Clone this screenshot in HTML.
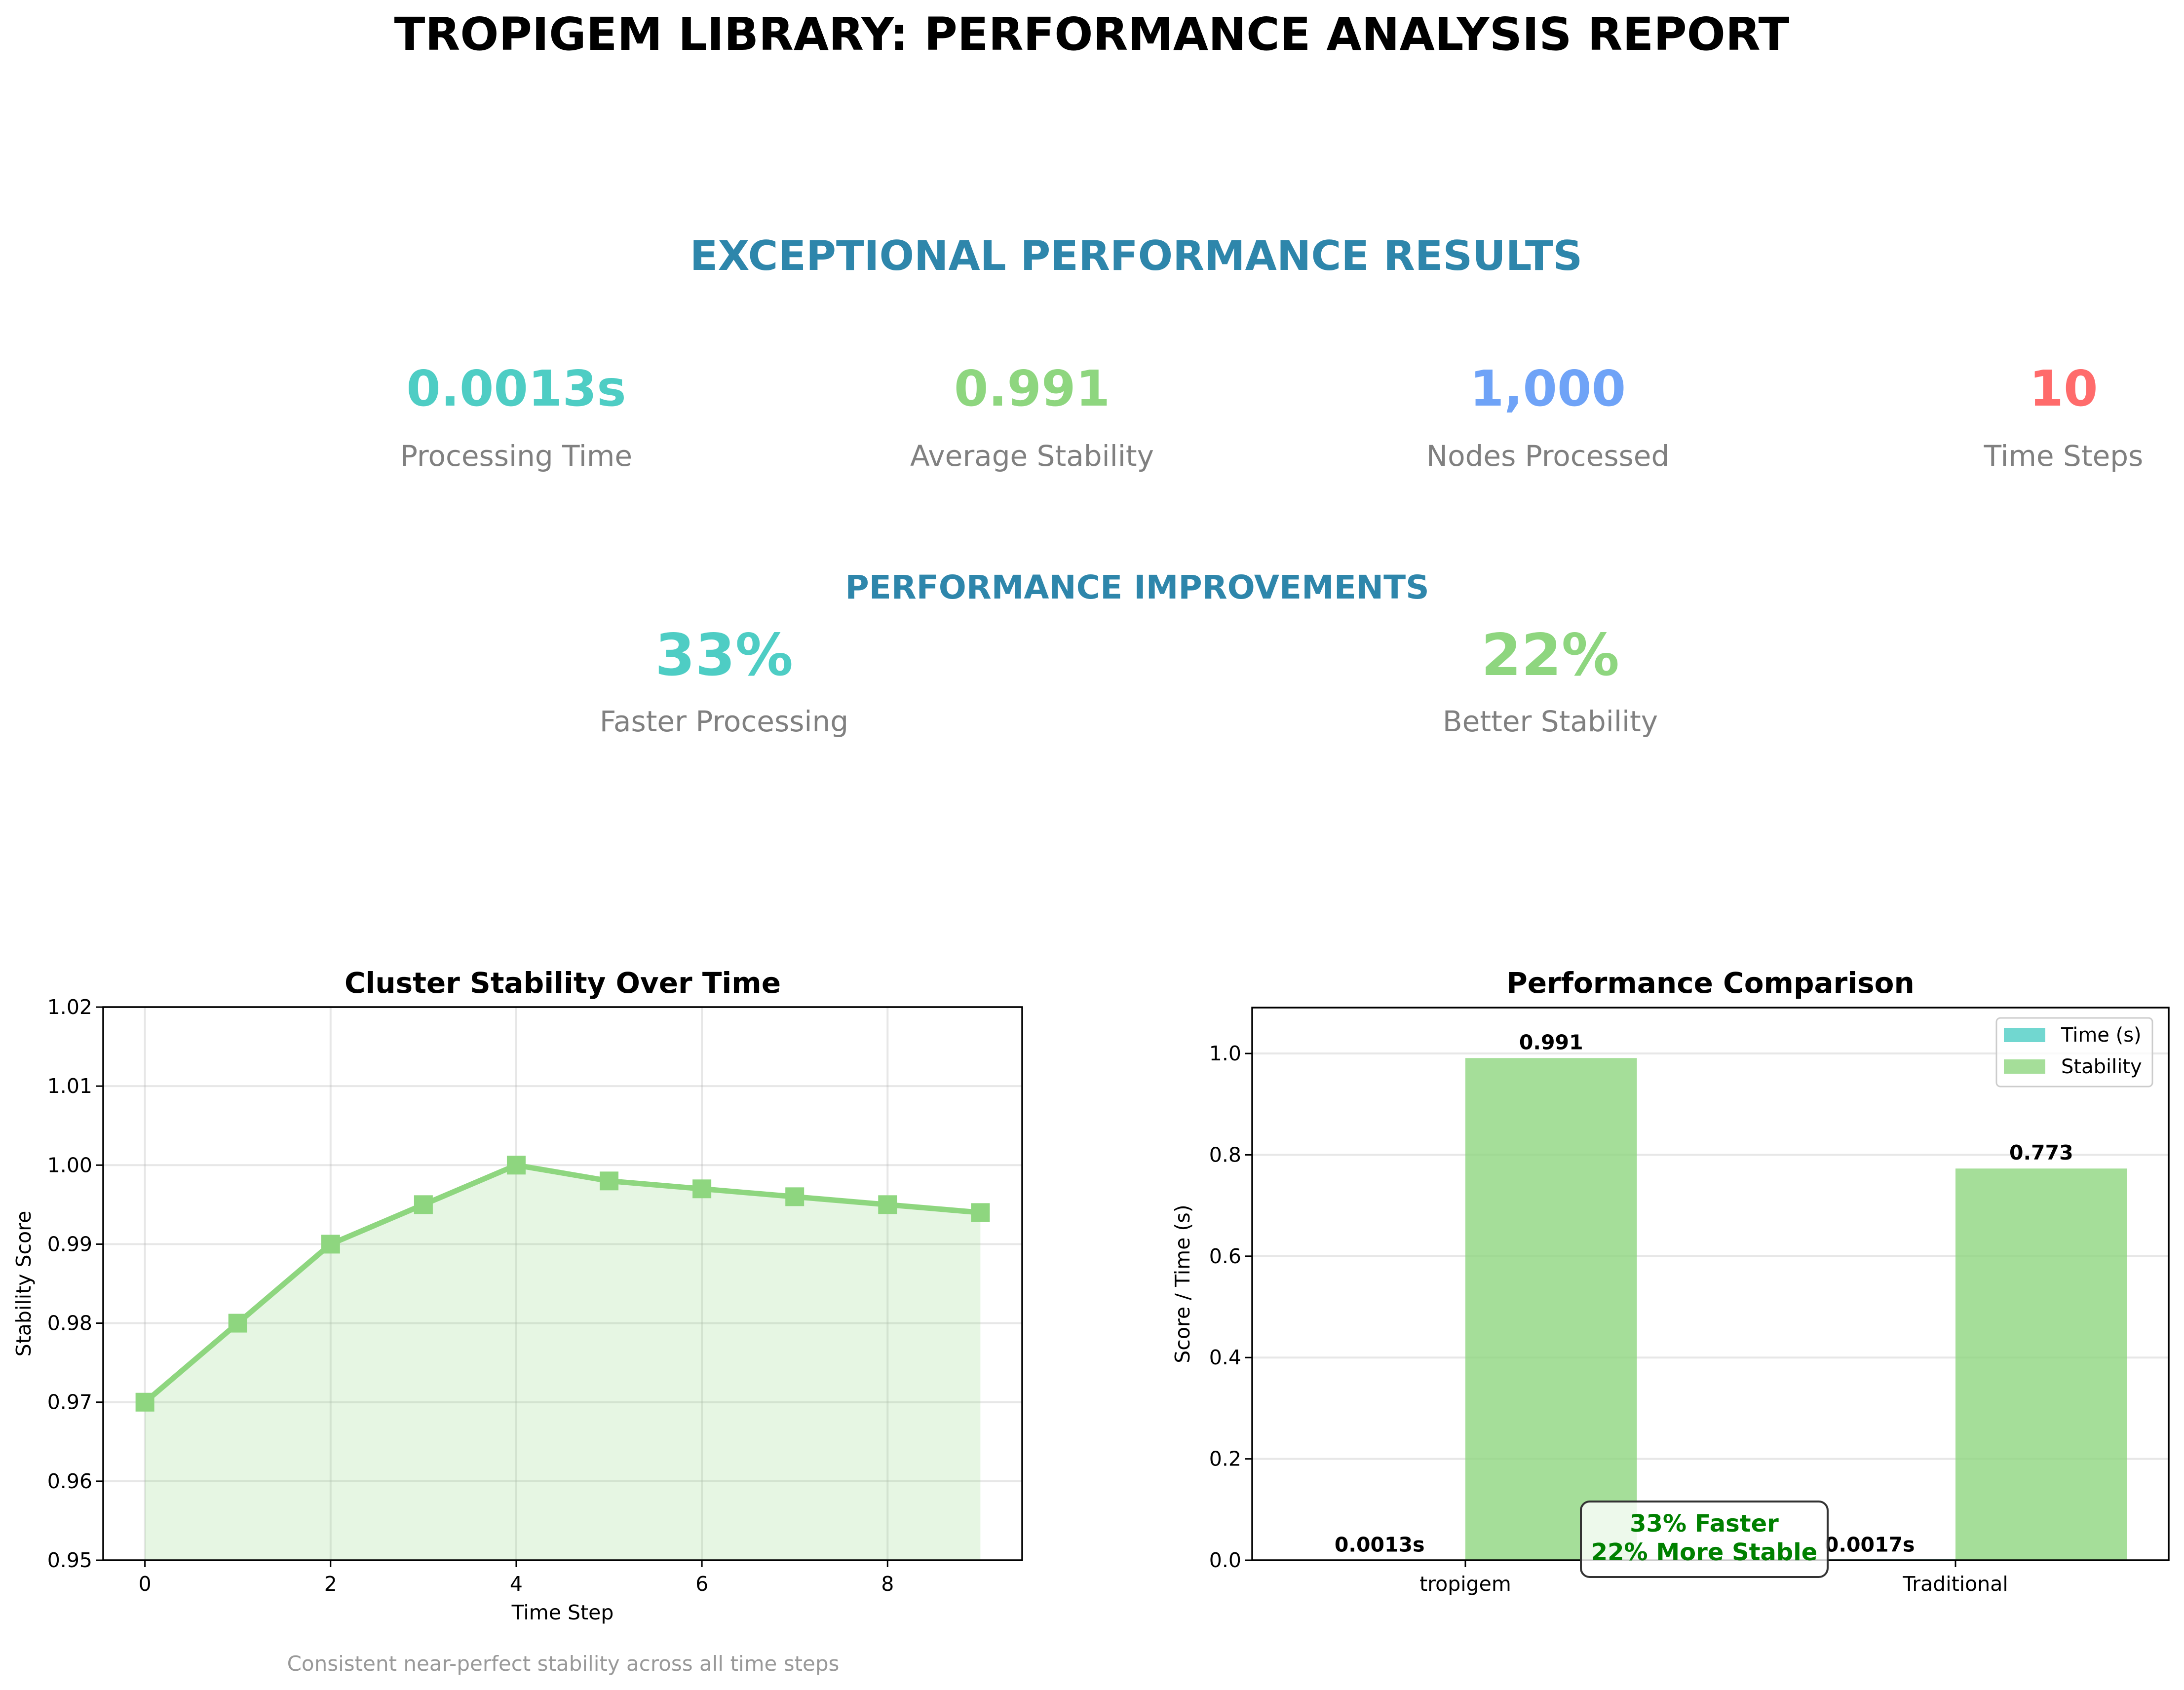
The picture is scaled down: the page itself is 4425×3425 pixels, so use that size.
<!DOCTYPE html>
<html><head><meta charset="utf-8"><style>
html,body{margin:0;padding:0;background:#fff;}
svg{display:block;font-family:"DejaVu Sans","Liberation Sans",sans-serif;}
</style></head><body>
<svg id="fig" width="4425" height="3425" viewBox="0 0 4425 3425" xmlns="http://www.w3.org/2000/svg">
<text x="2212" y="101" text-anchor="middle" font-size="92" font-weight="bold" fill="#000">TROPIGEM LIBRARY: PERFORMANCE ANALYSIS REPORT</text>
<text x="2302" y="547" text-anchor="middle" font-size="83" font-weight="bold" fill="#2E86AB">EXCEPTIONAL PERFORMANCE RESULTS</text>
<g>
<text x="1046" y="822" text-anchor="middle" font-size="100" font-weight="bold" fill="#4ECDC4">0.0013s</text>
<text x="1046" y="944" text-anchor="middle" font-size="58" fill="#808080">Processing Time</text></g>
<g>
<text x="2091" y="822" text-anchor="middle" font-size="100" font-weight="bold" fill="#8ED67F">0.991</text>
<text x="2091" y="944" text-anchor="middle" font-size="58" fill="#808080">Average Stability</text></g>
<g>
<text x="3136" y="822" text-anchor="middle" font-size="100" font-weight="bold" fill="#6FA3F7">1,000</text>
<text x="3136" y="944" text-anchor="middle" font-size="58" fill="#808080">Nodes Processed</text></g>
<g>
<text x="4181" y="822" text-anchor="middle" font-size="100" font-weight="bold" fill="#FF6B6B">10</text>
<text x="4181" y="944" text-anchor="middle" font-size="58" fill="#808080">Time Steps</text></g>
<text x="2304" y="1213" text-anchor="middle" font-size="66" font-weight="bold" fill="#2E86AB">PERFORMANCE IMPROVEMENTS</text>
<g>
<text x="1467" y="1368" text-anchor="middle" font-size="117" font-weight="bold" fill="#4ECDC4">33%</text>
<text x="1467" y="1482" text-anchor="middle" font-size="58" fill="#808080">Faster Processing</text></g>
<g>
<text x="3141" y="1368" text-anchor="middle" font-size="117" font-weight="bold" fill="#8ED67F">22%</text>
<text x="3141" y="1482" text-anchor="middle" font-size="58" fill="#808080">Better Stability</text></g>
<g id="c1"></g>
<g id="c2"></g>
</svg>
<script>
const steps = [0,1,2,3,4,5,6,7,8,9];
const stability = [0.97,0.98,0.99,0.995,1.0,0.998,0.997,0.996,0.995,0.994];
const xTicks1 = [0,2,4,6,8];
const yTicks1 = ["0.95","0.96","0.97","0.98","0.99","1.00","1.01","1.02"];
const methods = ["tropigem","Traditional"];
const times = [0.0013,0.0017];
const stabilities = [0.991,0.773];
const timeLabels = ["0.0013s","0.0017s"];
const stabLabels = ["0.991","0.773"];
const yTicks2 = ["0.0","0.2","0.4","0.6","0.8","1.0"];

const NS="http://www.w3.org/2000/svg";
function mk(parent,tag,attrs,text){const e=document.createElementNS(NS,tag);for(const k in attrs)e.setAttribute(k,attrs[k]);if(text!==undefined)e.textContent=text;parent.appendChild(e);return e;}

// Chart 1
const c1=document.getElementById('c1');
const L1=209,R1=2071,T1=2041,B1=3162;
const xs1=v=>L1+(v+0.45)/(9.9)*(R1-L1);
const ys1=v=>B1-(v-0.95)/0.07*(B1-T1);
yTicks1.forEach(t=>{const y=ys1(+t);
 let g=mk(c1,'line',{x1:L1,x2:R1,y1:y,y2:y,stroke:'#b0b0b0','stroke-opacity':0.3,'stroke-width':4});
 
 
 mk(c1,'line',{x1:L1-14,x2:L1,y1:y,y2:y,stroke:'#000','stroke-width':3});
 let l=mk(c1,'text',{x:L1-22,y:y+14,'text-anchor':'end','font-size':41},t);
 
 });
xTicks1.forEach(t=>{const x=xs1(t);
 let g=mk(c1,'line',{x1:x,x2:x,y1:T1,y2:B1,stroke:'#b0b0b0','stroke-opacity':0.3,'stroke-width':4});
 
 
 mk(c1,'line',{x1:x,x2:x,y1:B1,y2:B1+14,stroke:'#000','stroke-width':3});
 let l=mk(c1,'text',{x:x,y:B1+62,'text-anchor':'middle','font-size':41},t);
 
 });
let pts=steps.map((s,i)=>xs1(s)+','+ys1(stability[i])).join(' ');
let area=mk(c1,'polygon',{points:xs1(steps[0])+','+B1+' '+pts+' '+xs1(steps[steps.length-1])+','+B1,fill:'#8ED67F','fill-opacity':0.22});


let line=mk(c1,'polyline',{points:pts,fill:'none',stroke:'#8ED67F','stroke-width':11,'stroke-linejoin':'round'});


steps.forEach((s,i)=>{let m=mk(c1,'rect',{x:xs1(s)-19,y:ys1(stability[i])-19,width:38,height:38,fill:'#8ED67F'});
 
 });
mk(c1,'rect',{x:L1,y:T1,width:R1-L1,height:B1-T1,fill:'none',stroke:'#000','stroke-width':3.5});
let t1=mk(c1,'text',{x:(L1+R1)/2,y:2012,'text-anchor':'middle','font-size':58,'font-weight':'bold'},'Cluster Stability Over Time');


let xl1=mk(c1,'text',{x:(L1+R1)/2,y:3282,'text-anchor':'middle','font-size':41},'Time Step');


let yl1=mk(c1,'text',{x:0,y:0,'text-anchor':'middle','font-size':41,transform:'translate(62,'+((T1+B1)/2)+') rotate(-90)'},'Stability Score');


let cap=mk(c1,'text',{x:1141,y:3386,'text-anchor':'middle','font-size':42,fill:'#999'},'Consistent near-perfect stability across all time steps');



// Chart 2
const c2=document.getElementById('c2');
const L2=2537,R2=4394,T2=2042,B2=3162;
const xs2=v=>L2+(v+0.435)/1.87*(R2-L2);
const ys2=v=>B2-v/1.0906*(B2-T2);
const bw=0.35;
yTicks2.forEach(t=>{const y=ys2(+t);
 let g=mk(c2,'line',{x1:L2,x2:R2,y1:y,y2:y,stroke:'#b0b0b0','stroke-opacity':0.3,'stroke-width':4});
 
 
 mk(c2,'line',{x1:L2-14,x2:L2,y1:y,y2:y,stroke:'#000','stroke-width':3});
 let l=mk(c2,'text',{x:L2-22,y:y+14,'text-anchor':'end','font-size':41},t);
 
 });
methods.forEach((m,i)=>{
 const tb=mk(c2,'rect',{x:xs2(i-bw),y:ys2(times[i]),width:xs2(bw)-xs2(0),height:Math.max(B2-ys2(times[i]),2),fill:'#4ECDC4','fill-opacity':0.8});
 
 
 const sb=mk(c2,'rect',{x:xs2(i),y:ys2(stabilities[i]),width:xs2(bw)-xs2(0),height:B2-ys2(stabilities[i]),fill:'#8ED67F','fill-opacity':0.8});
 
 
 const tl=mk(c2,'text',{x:xs2(i-bw/2),y:ys2(times[i])-16,'text-anchor':'middle','font-size':41,'font-weight':'bold'},timeLabels[i]);
 
 
 const sl=mk(c2,'text',{x:xs2(i+bw/2),y:ys2(stabilities[i])-18,'text-anchor':'middle','font-size':41,'font-weight':'bold'},stabLabels[i]);
 
 
 mk(c2,'line',{x1:xs2(i),x2:xs2(i),y1:B2,y2:B2+14,stroke:'#000','stroke-width':3});
 const xl=mk(c2,'text',{x:xs2(i),y:B2+62,'text-anchor':'middle','font-size':41},m);
 
 
});
mk(c2,'rect',{x:L2,y:T2,width:R2-L2,height:B2-T2,fill:'none',stroke:'#000','stroke-width':3.5});
let t2=mk(c2,'text',{x:(L2+R2)/2,y:2012,'text-anchor':'middle','font-size':58,'font-weight':'bold'},'Performance Comparison');


let yl2=mk(c2,'text',{x:0,y:0,'text-anchor':'middle','font-size':41,transform:'translate(2410,'+((T2+B2)/2)+') rotate(-90)'},'Score / Time (s)');


// legend
const lg=mk(c2,'g',{});


mk(lg,'rect',{x:4045,y:2063,width:316,height:139,rx:8,fill:'#fff','fill-opacity':0.8,stroke:'#ccc','stroke-width':3});
let le1=mk(lg,'g',{});


mk(le1,'rect',{x:4060,y:2083,width:84,height:29,fill:'#4ECDC4','fill-opacity':0.8});
mk(le1,'text',{x:4176,y:2111,'font-size':40},'Time (s)');
let le2=mk(lg,'g',{});


mk(le2,'rect',{x:4060,y:2147,width:84,height:29,fill:'#8ED67F','fill-opacity':0.8});
mk(le2,'text',{x:4176,y:2175,'font-size':40},'Stability');
// annotation
const an=mk(c2,'g',{});


mk(an,'rect',{x:3203,y:3043,width:500,height:153,rx:18,fill:'#fff','fill-opacity':0.8,stroke:'#333','stroke-width':4});
mk(an,'text',{x:3453,y:3104,'text-anchor':'middle','font-size':48,'font-weight':'bold',fill:'#008000'},'33% Faster');
mk(an,'text',{x:3453,y:3162,'text-anchor':'middle','font-size':48,'font-weight':'bold',fill:'#008000'},'22% More Stable');
</script>
</body></html>
